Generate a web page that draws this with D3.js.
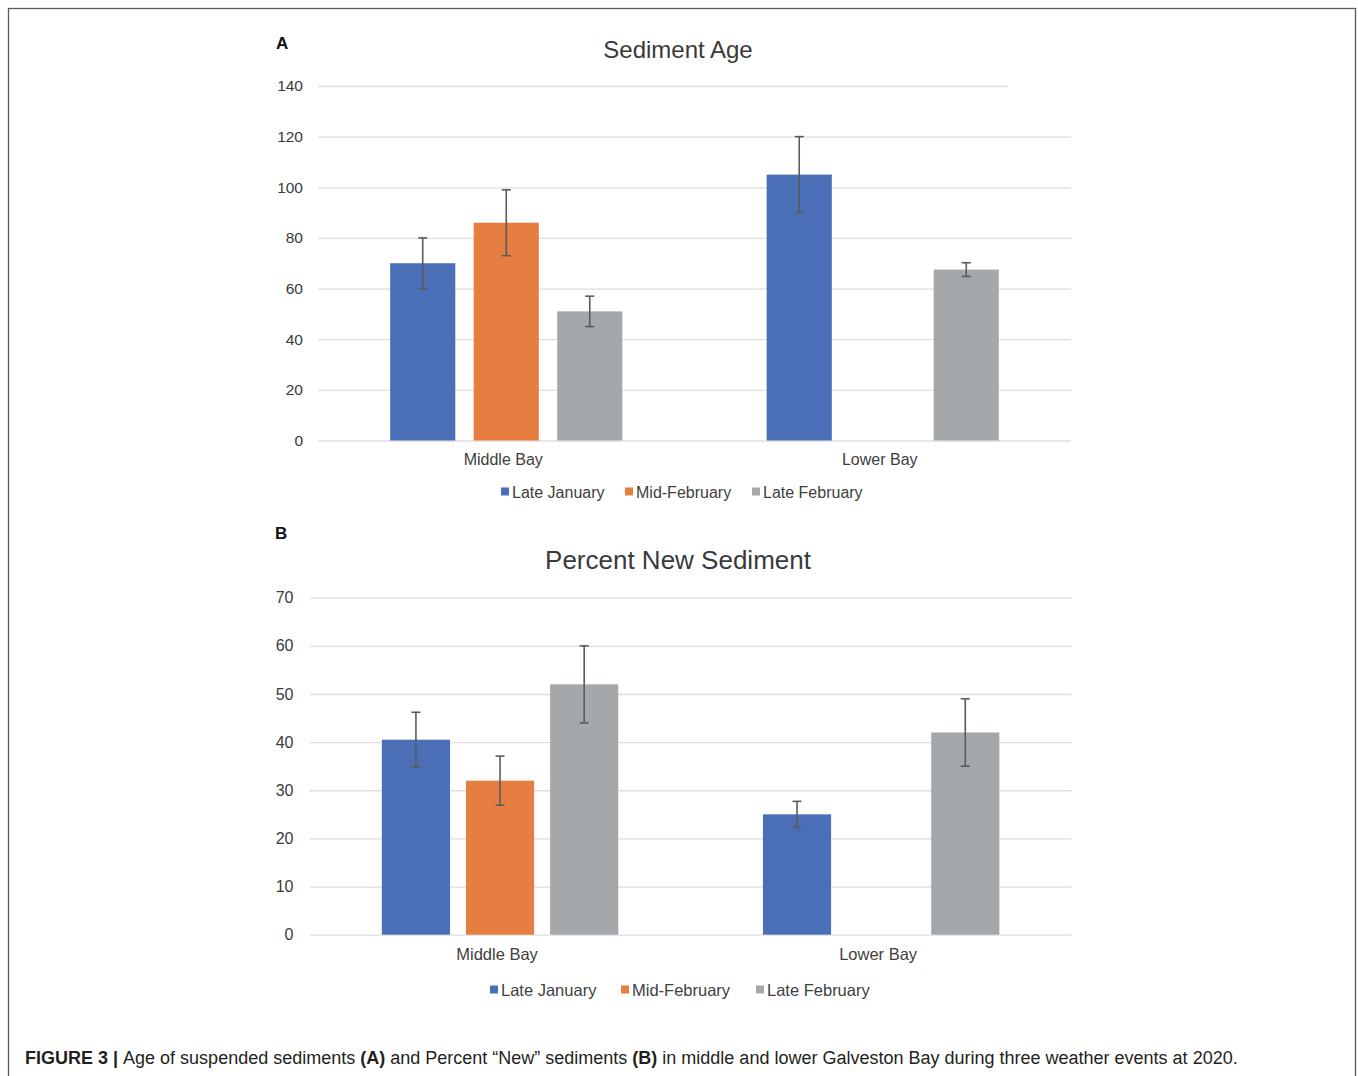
<!DOCTYPE html>
<html>
<head>
<meta charset="utf-8">
<script src="https://cdn.jsdelivr.net/npm/d3@7"></script>
<style>
  html, body { margin: 0; padding: 0; background: #fff; }
  svg { display: block; font-family: "Liberation Sans", Arial, sans-serif; }
</style>
</head>
<body>
<svg id="fig" width="1358" height="1076"></svg>
<script>
// ---------- data ----------
const categories = ["Middle Bay", "Lower Bay"];
const series = ["Late January", "Mid-February", "Late February"];
const seriesColors = ["#4a6fb6", "#e57e40", "#a5a8aa"];

// Panel A: Sediment Age
const ageTicks = [0, 20, 40, 60, 80, 100, 120, 140];
const ageLateJanuary = [70, 105];
const ageMidFebruary = [86, null];
const ageLateFebruary = [51, 67.5];
const ageErrLateJanuary = [10, 15];
const ageErrMidFebruary = [13, null];
const ageErrLateFebruary = [6, 2.7];

// Panel B: Percent New Sediment
const pctTicks = [0, 10, 20, 30, 40, 50, 60, 70];
const pctLateJanuary = [40.5, 25];
const pctMidFebruary = [32, null];
const pctLateFebruary = [52, 42];
const pctErrLateJanuary = [5.7, 2.7];
const pctErrMidFebruary = [5.1, null];
const pctErrLateFebruary = [8, 7];

const svg = d3.select("#fig");

// frame
svg.append("rect").attr("x", 8.5).attr("y", 8.5).attr("width", 1347).attr("height", 1100)
  .attr("fill", "none").attr("stroke", "#5a5a5a").attr("stroke-width", 1.3);

function panel(opt) {
  const g = svg.append("g");
  const y = d3.scaleLinear().domain([0, opt.max]).range([opt.y0, opt.y1]);
  const x = d3.scaleBand().domain(categories).range([opt.x0, opt.x1]).paddingInner(0).paddingOuter(0);
  const xs = d3.scaleBand().domain(series).range([0, x.bandwidth()])
    .paddingInner(opt.pi).paddingOuter(opt.po);

  // grid + tick labels via axis
  const axis = d3.axisLeft(y).tickValues(opt.ticks).tickSize(-(opt.x1 - opt.x0)).tickPadding(14);
  const ag = g.append("g").attr("transform", `translate(${opt.x0},0)`).call(axis);
  ag.select(".domain").remove();
  ag.selectAll(".tick line").attr("stroke", "#dedede").attr("stroke-width", 1.3);
  if (opt.topShort) {
    ag.selectAll(".tick").filter(d => d === opt.max).select("line")
      .attr("x2", opt.topShort - opt.x0);
  }
  ag.selectAll(".tick text").attr("fill", "#3a3a3a").attr("font-size", opt.tickFont)
    .attr("font-family", "Liberation Sans, Arial, sans-serif").attr("x", -(opt.labelGap));

  const vals = opt.values;
  const errs = opt.errors;
  const items = [];
  categories.forEach((c, ci) => {
    series.forEach((s, si) => {
      const v = vals[si][ci];
      if (v == null) return;
      items.push({ c, s, si, v, e: errs[si][ci] });
    });
  });

  g.selectAll("rect.bar").data(items).enter().append("rect")
    .attr("class", "bar")
    .attr("x", d => x(d.c) + xs(d.s))
    .attr("width", xs.bandwidth())
    .attr("y", d => y(d.v))
    .attr("height", d => y(0) - y(d.v))
    .attr("fill", d => seriesColors[d.si]);

  const eb = g.selectAll("g.err").data(items).enter().append("g").attr("class", "err")
    .attr("stroke", "#5b5b5b").attr("stroke-width", 1.6);
  eb.append("line")
    .attr("x1", d => x(d.c) + xs(d.s) + xs.bandwidth() / 2)
    .attr("x2", d => x(d.c) + xs(d.s) + xs.bandwidth() / 2)
    .attr("y1", d => y(d.v + d.e)).attr("y2", d => y(d.v - d.e));
  [1, -1].forEach(sign => {
    eb.append("line")
      .attr("x1", d => x(d.c) + xs(d.s) + xs.bandwidth() / 2 - 4.5)
      .attr("x2", d => x(d.c) + xs(d.s) + xs.bandwidth() / 2 + 4.5)
      .attr("y1", d => y(d.v + sign * d.e)).attr("y2", d => y(d.v + sign * d.e));
  });

  // category labels
  g.selectAll("text.cat").data(categories).enter().append("text")
    .attr("class", "cat")
    .attr("x", d => x(d) + x.bandwidth() / 2 + opt.catShift)
    .attr("y", opt.catY)
    .attr("text-anchor", "middle")
    .attr("font-size", opt.catFont).attr("fill", "#404040")
    .text(d => d);

  // title
  g.append("text").attr("x", opt.titleX).attr("y", opt.titleY).attr("text-anchor", "middle")
    .attr("font-size", opt.titleFont).attr("fill", "#3a3a3a").text(opt.title);

  // panel letter
  g.append("text").attr("x", opt.letterX).attr("y", opt.letterY)
    .attr("font-size", 17).attr("font-weight", "bold").attr("fill", "#111").text(opt.letter);

  // legend
  const lg = g.append("g");
  series.forEach((s, i) => {
    const lx = opt.legendX[i];
    lg.append("rect").attr("x", lx).attr("y", opt.legendY - 4.5).attr("width", 8).attr("height", 8)
      .attr("fill", seriesColors[i]);
    lg.append("text").attr("x", lx + 11).attr("y", opt.legendY + 5.5)
      .attr("font-size", opt.legendFont).attr("fill", "#404040").text(s);
  });
}

panel({
  max: 140, ticks: ageTicks, y0: 440.5, y1: 86, x0: 318, x1: 1071,
  pi: 0.22, po: 0.864, topShort: 1008,
  tickFont: 15.5, labelGap: 15,
  values: [ageLateJanuary, ageMidFebruary, ageLateFebruary],
  errors: [ageErrLateJanuary, ageErrMidFebruary, ageErrLateFebruary],
  catY: 465, catFont: 16, catShift: -3,
  title: "Sediment Age", titleX: 678, titleY: 58, titleFont: 24,
  letter: "A", letterX: 276, letterY: 49,
  legendX: [501, 625, 752], legendY: 492, legendFont: 16
});

panel({
  max: 70, ticks: pctTicks, y0: 934.7, y1: 597.7, x0: 309.5, x1: 1071.7,
  pi: 0.19, po: 0.86, topShort: null,
  tickFont: 16, labelGap: 16,
  values: [pctLateJanuary, pctMidFebruary, pctLateFebruary],
  errors: [pctErrLateJanuary, pctErrMidFebruary, pctErrLateFebruary],
  catY: 960, catFont: 16.5, catShift: -3,
  title: "Percent New Sediment", titleX: 678, titleY: 569, titleFont: 26,
  letter: "B", letterX: 275, letterY: 539,
  legendX: [490, 621, 756], legendY: 990, legendFont: 16.5
});

// caption
const cap = svg.append("text").attr("x", 25).attr("y", 1064)
  .attr("font-size", 18).attr("fill", "#231f20");
const parts = [
  ["FIGURE 3 | ", true], ["Age of suspended sediments ", false], ["(A)", true],
  [" and Percent \u201CNew\u201D sediments ", false], ["(B)", true],
  [" in middle and lower Galveston Bay during three weather events at 2020.", false]
];
parts.forEach(([t, b]) => cap.append("tspan").attr("font-weight", b ? "bold" : "normal").text(t));
</script>
</body>
</html>
